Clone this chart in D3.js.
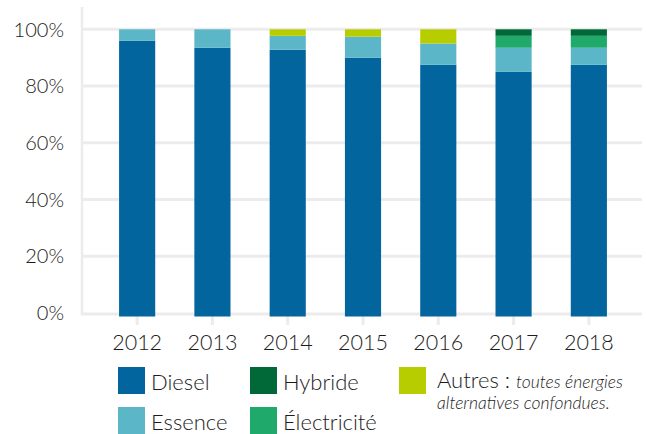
<!DOCTYPE html>
<html>
<head>
<meta charset="utf-8">
<script src="https://cdn.jsdelivr.net/npm/d3@7"></script>
<style>
  body { margin: 0; background: #fff; }
  svg { display: block; font-family: Lato, "Open Sans", sans-serif; font-weight: 300; }
</style>
</head>
<body>
<svg id="chart" width="646" height="434"></svg>
<script>
const years = ['2012', '2013', '2014', '2015', '2016', '2017', '2018'];
const diesel = [96, 93.5, 92.8, 90, 87.5, 85, 87.5];
const essence = [4, 6.5, 4.9, 7.4, 7.5, 8.5, 6];
const electricite = [0, 0, 0, 0, 0, 4.2, 4.2];
const hybride = [0, 0, 0, 0, 0, 2.3, 2.3];
const autres = [0, 0, 2.3, 2.6, 5, 0, 0];
const yTicks = [0, 0.2, 0.4, 0.6, 0.8, 1];

const keys = ['diesel', 'essence', 'electricite', 'hybride', 'autres'];
const colors = {
  diesel: '#03659e',
  essence: '#5bb6c8',
  electricite: '#1fa96a',
  hybride: '#006937',
  autres: '#b8cd00'
};

const table = years.map((yr, i) => ({
  year: yr,
  diesel: diesel[i] / 100,
  essence: essence[i] / 100,
  electricite: electricite[i] / 100,
  hybride: hybride[i] / 100,
  autres: autres[i] / 100
}));

const svg = d3.select('#chart');
const x = d3.scaleBand(years, [99.5, 626.5]).paddingInner(0.52).paddingOuter(0.26);
const y = d3.scaleLinear([0, 1], [313, 29.3]);

// grid
svg.append('g').selectAll('line')
  .data(yTicks)
  .join('line')
  .attr('x1', 83).attr('x2', 642)
  .attr('y1', d => d === 0 ? y(d) + 1 : y(d))
  .attr('y2', d => d === 0 ? y(d) + 1 : y(d))
  .attr('stroke', '#ececec')
  .attr('stroke-width', 3);

svg.append('line')
  .attr('x1', 82).attr('x2', 82)
  .attr('y1', 7).attr('y2', y(0) + 2.5)
  .attr('stroke', '#ececec')
  .attr('stroke-width', 2.5);

// y labels
svg.append('g').selectAll('text')
  .data(yTicks)
  .join('text')
  .attr('x', 64)
  .attr('y', d => y(d))
  .attr('dy', '0.36em')
  .attr('text-anchor', 'end')
  .attr('font-size', 20)
  .attr('fill', '#1c1c1c')
  .text(d => d3.format('.0%')(d));

// x ticks + labels
const xa = svg.append('g');
xa.selectAll('line')
  .data(years)
  .join('line')
  .attr('x1', d => x(d) + x.bandwidth() / 2)
  .attr('x2', d => x(d) + x.bandwidth() / 2)
  .attr('y1', 316).attr('y2', 325)
  .attr('stroke', '#ececec')
  .attr('stroke-width', 3);
xa.selectAll('text')
  .data(years)
  .join('text')
  .attr('x', d => x(d) + x.bandwidth() / 2)
  .attr('y', 350)
  .attr('text-anchor', 'middle')
  .attr('font-size', 21.5)
  .attr('fill', '#1c1c1c')
  .text(d => d);

// bars
const stacked = d3.stack().keys(keys)(table);
svg.append('g').selectAll('g')
  .data(stacked)
  .join('g')
  .attr('fill', d => colors[d.key])
  .selectAll('rect')
  .data(d => d.filter(s => s[1] - s[0] > 0))
  .join('rect')
  .attr('x', d => x(d.data.year))
  .attr('width', x.bandwidth())
  .attr('y', d => y(d[1]))
  .attr('height', d => y(d[0]) - y(d[1]) + (d[0] === 0 ? 3.5 : 0));

// legend
const legend = [
  { key: 'diesel', label: 'Diesel', x: 118, y: 367 },
  { key: 'essence', label: 'Essence', x: 118, y: 407 },
  { key: 'hybride', label: 'Hybride', x: 250, y: 367 },
  { key: 'electricite', label: 'Électricité', x: 250, y: 407 }
];
const lg = svg.append('g').selectAll('g')
  .data(legend)
  .join('g')
  .attr('transform', d => `translate(${d.x},${d.y})`);
lg.append('rect')
  .attr('width', 27).attr('height', 27)
  .attr('fill', d => colors[d.key]);
lg.append('text')
  .attr('x', 33).attr('y', 23)
  .attr('font-size', 22)
  .attr('fill', '#1c1c1c')
  .text(d => d.label);

const other = svg.append('g').attr('transform', 'translate(399,367)');
other.append('rect')
  .attr('width', 27).attr('height', 27)
  .attr('fill', colors.autres);
const ot = other.append('text')
  .attr('x', 38).attr('y', 21)
  .attr('fill', '#1c1c1c');
ot.append('tspan').attr('font-size', 22).text('Autres : ');
ot.append('tspan').attr('font-size', 17.5).attr('font-style', 'italic').text('toutes énergies');
other.append('text')
  .attr('x', 38).attr('y', 42)
  .attr('font-size', 17.5)
  .attr('font-style', 'italic')
  .attr('fill', '#1c1c1c')
  .text('alternatives confondues.');
</script>
</body>
</html>
